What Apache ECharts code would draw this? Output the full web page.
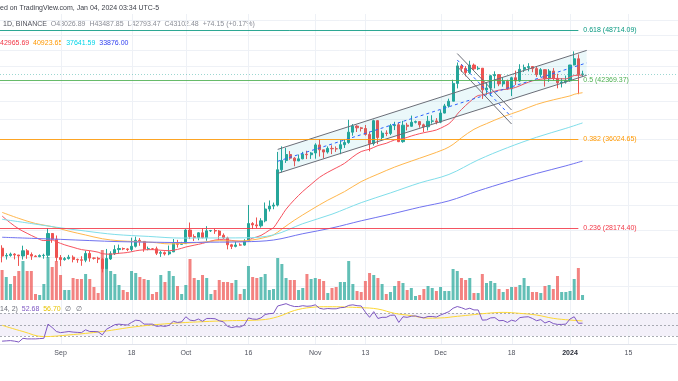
<!DOCTYPE html>
<html><head><meta charset="utf-8">
<script src="https://cdn.jsdelivr.net/npm/echarts/dist/echarts.min.js"></script>
<style>html,body{margin:0;padding:0;background:#fff}#c{width:678px;height:381px}</style>
</head><body><div id="c"></div>
<script>
// ---------- DATA ----------
const startDate = '2023-08-18';
const categoryCount = 162;
const tickDates = ['2023-09-01','2023-09-18','2023-10-01','2023-10-16','2023-11-01','2023-11-13','2023-12-01','2023-12-18','2024-01-01','2024-01-15'];
const tickLabels = ['Sep','18','Oct','16','Nov','13','Dec','18','2024','15'];

// daily candles from startDate: [open, high, low, close]
const candles = [
[26620,26839,25600,26049],[26049,26260,25801,26096],[26096,26299,26006,26189],[26189,26258,25812,26126],[26126,26135,25350,26057],
[26057,26808,25798,26432],[26432,26554,25852,26163],[26163,26311,25777,26048],[26048,26107,25983,26008],[26008,26170,25965,26089],
[26089,26219,25860,26106],[26106,28142,25922,27727],[27727,27760,27025,27299],[27299,27575,25655,25941],[25941,26125,25333,25800],
[25800,25981,25717,25869],[25869,26135,25800,25969],[25969,26100,25600,25812],[25812,25868,25570,25780],[25780,26040,25360,25753],
[25753,26445,25610,26240],[26240,26434,25645,25905],[25905,25945,25800,25895],[25895,26000,25550,25832],[25832,25880,24901,25162],
[25162,26567,25131,25840],[25840,26397,25770,26222],[26222,26840,26126,26522],[26522,26888,26224,26600],[26600,26670,26478,26568],
[26568,26617,26399,26527],[26527,27409,26385,26763],[26763,27488,26676,27210],[27210,27379,26800,27125],[27125,27159,26361,26568],
[26568,26743,26468,26580],[26580,26632,26500,26579],[26579,26738,26122,26256],[26256,26429,25990,26298],[26298,26389,26090,26206],
[26206,26817,26111,26352],[26352,27308,26342,27021],[27021,27244,26665,26906],[26906,27094,26886,26962],[26962,28065,26954,27993],
[27993,28580,27300,27494],[27494,27665,27160,27426],[27426,27830,27216,27778],[27778,28120,27360,27410],[27410,28295,27175,27931],
[27931,28000,27842,27956],[27956,28095,27700,27917],[27917,27987,27260,27590],[27590,27735,27300,27390],[27390,27479,26538,26875],
[26875,26943,26560,26756],[26756,27130,26686,26862],[26862,26989,26810,26852],[26852,27293,26808,27154],[27154,30000,27112,28500],
[28500,28612,28069,28395],[28395,28982,28140,28320],[28320,28925,28180,28713],[28713,30208,28600,29669],[29669,30380,29463,29909],
[29909,30200,29650,29992],[29992,34741,29883,33069],[33069,35280,32832,33922],[33922,35132,33700,34496],[34496,34824,33996,34151],
[34151,34245,33390,33892],[33892,34493,33860,34082],[34082,34750,34047,34525],[34525,34856,34062,34475],[34475,34720,34076,34639],
[34639,35582,34097,35421],[35421,35984,34300,34941],[34941,34942,34125,34730],[34730,35275,34583,35082],[35082,35383,34531,35049],
[35049,35275,34747,35037],[35037,35888,34523,35443],[35443,35980,35125,35655],[35655,37972,35534,36693],[36693,37526,36333,37313],
[37313,37404,36710,37138],[37138,37229,36760,37065],[37065,37430,36341,36462],[36462,36744,34800,35551],[35551,37980,35360,37880],
[37880,37930,35500,36154],[36154,36845,35875,36596],[36596,36876,36290,36568],[36568,37540,36390,37359],[37359,37758,36900,37448],
[37448,37650,35700,35741],[35741,37856,35633,37408],[37408,37653,36868,37294],[37294,38414,37251,37713],[37713,37888,37591,37780],
[37780,37814,37150,37447],[37447,37569,36707,37242],[37242,38377,36868,37818],[37818,38450,37570,37854],[37854,38145,37500,37723],
[37723,38999,37615,38682],[38682,39676,38650,39457],[39457,40250,39274,39972],[39972,42420,39972,41991],[41991,44488,41414,44073],
[44073,44297,43335,43762],[43762,44047,42821,43273],[43273,44700,43081,44170],[44170,44358,43584,43713],[43713,44038,43563,43789],
[43789,43804,40222,41244],[41244,42104,40680,41450],[41450,43000,40555,42891],[42891,43414,41424,43023],[43023,43085,41666,41930],
[41930,42724,41605,42240],[42240,42427,41250,41365],[41365,42767,40542,42652],[42652,43497,41800,42271],[42271,44275,42175,43652],
[43652,44230,43330,43870],[43870,44398,43412,43998],[43998,44016,43300,43740],[43740,43946,42746,43017],[43017,43800,42733,43613],
[43613,43647,41626,42520],[42520,43684,42167,43443],[43443,43804,42318,42581],[42581,43124,41424,42066],[42066,42613,41520,42140],
[42140,42899,41965,42283],[42283,44184,42181,44180],[44180,45879,44148,44946],[44946,45500,40750,43028],[43026.89,43487.85,42793.47,43102.48]
];

// daily volume (BTC)
const volumes = [
45000,34500,24000,36000,43500,58500,43500,43500,9000,7500,
24000,64500,49500,58500,37500,15000,15000,33000,31500,31500,
39000,31500,19500,10500,75000,63000,43500,39000,22500,15000,
12000,43500,40500,34500,31500,30000,9000,12000,37500,27000,
43500,36000,21000,9000,22500,61500,33000,30000,37500,33000,
9000,15000,30000,27000,27000,25500,30000,9000,16500,51000,
34500,33000,34500,39000,15000,16500,63000,54000,33000,30000,
30000,15000,18000,39000,31500,33000,31500,28500,10500,18000,
19500,27000,27000,58500,24000,13500,12000,28500,40500,37500,
33000,24000,9000,12000,21000,28500,25500,15000,18000,6000,
7500,16500,21000,18000,13500,19500,13500,13500,46500,43500,
33000,30000,33000,10500,10500,39000,25500,28500,25500,16500,
12000,16500,19500,19500,22500,33000,21000,12000,12000,10500,
21000,22500,16500,36000,12000,12000,13500,31500,48000,7500
];

// moving averages: [date, value]
const ma20 = [['2023-08-18',29100],['2023-08-20',28550],['2023-08-22',28080],['2023-08-24',27740],['2023-08-26',27430],['2023-08-28',27190],
['2023-08-30',27230],['2023-08-31',27100],['2023-09-02',26870],['2023-09-04',26690],['2023-09-06',26520],['2023-09-08',26440],['2023-09-10',26330],
['2023-09-11',26220],['2023-09-13',26185],['2023-09-15',26253],['2023-09-17',26306],['2023-09-19',26431],['2023-09-21',26504],['2023-09-23',26517],
['2023-09-25',26474],['2023-09-27',26439],['2023-09-29',26533],['2023-10-01',26709],['2023-10-03',26845],['2023-10-05',26979],['2023-10-07',27154],
['2023-10-09',27262],['2023-10-11',27236],['2023-10-13',27159],['2023-10-15',27132],['2023-10-17',27370],['2023-10-19',27579],['2023-10-21',27981],
['2023-10-22',28172],['2023-10-23',28638],['2023-10-24',29141],['2023-10-25',29651],['2023-10-27',30442],['2023-10-29',31145],['2023-10-31',31764],
['2023-11-02',32381],['2023-11-04',32841],['2023-11-06',33240],['2023-11-08',33660],['2023-11-10',34269],['2023-11-12',34782],['2023-11-14',35000],
['2023-11-16',35358],['2023-11-18',35580],['2023-11-20',35911],['2023-11-22',36039],['2023-11-24',36306],['2023-11-26',36541],['2023-11-28',36723],
['2023-11-30',36916],['2023-12-02',37310],['2023-12-03',37563],['2023-12-04',37985],['2023-12-05',38565],['2023-12-06',39060],['2023-12-08',39909],
['2023-12-10',40606],['2023-12-11',40667],['2023-12-13',40947],['2023-12-15',41220],['2023-12-17',41322],['2023-12-19',41527],['2023-12-21',41933],
['2023-12-23',42283],['2023-12-25',42473],['2023-12-27',42569],['2023-12-29',42540],['2023-12-31',42520],['2024-01-01',42700],['2024-01-02',42920],
['2024-01-03',42940],['2024-01-04',42965.69]];
const ma50 = [['2023-08-18',29395],['2023-08-22',28911],['2023-08-26',28504],['2023-08-30',28257],['2023-09-03',27908],['2023-09-07',27612],
['2023-09-11',27327],['2023-09-15',27176],['2023-09-19',27117],['2023-09-23',27056],['2023-09-27',26942],['2023-10-01',26985],['2023-10-05',27066],
['2023-10-09',27182],['2023-10-13',27149],['2023-10-17',27238],['2023-10-20',27427],['2023-10-22',27621],['2023-10-24',28074],['2023-10-27',28763],
['2023-10-31',29602],['2023-11-04',30405],['2023-11-08',31130],['2023-11-12',32006],['2023-11-16',32673],['2023-11-20',33315],['2023-11-24',33870],
['2023-11-28',34417],['2023-12-02',35014],['2023-12-04',35474],['2023-12-06',36123],['2023-12-09',36982],['2023-12-12',37565],['2023-12-16',38296],
['2023-12-20',38920],['2023-12-24',39618],['2023-12-28',40123],['2024-01-01',40560],['2024-01-02',40740],['2024-01-03',40840],['2024-01-04',40923.65]];
const ma100 = [['2023-08-18',28840],['2023-08-25',28503],['2023-08-31',28210],['2023-09-07',27912],['2023-09-14',27653],['2023-09-22',27505],
['2023-09-30',27378],['2023-10-07',27387],['2023-10-15',27397],['2023-10-22',27616],['2023-10-29',28489],['2023-11-05',29248],['2023-11-12',30195],
['2023-11-19',31018],['2023-11-26',31888],['2023-12-03',32644],['2023-12-10',33983],['2023-12-17',35147],['2023-12-24',36180],['2023-12-31',37079],
['2024-01-04',37641.59]];
const ma200 = [['2023-08-18',27440],['2023-08-25',27360],['2023-09-01',27280],['2023-09-08',27190],['2023-09-15',27109],['2023-09-22',27074],
['2023-09-30',27041],['2023-10-07',27069],['2023-10-15',27098],['2023-10-22',27231],['2023-10-29',27709],['2023-11-05',28154],['2023-11-12',28718],
['2023-11-19',29244],['2023-11-26',29814],['2023-12-03',30346],['2023-12-10',31195],['2023-12-17',31985],['2023-12-24',32734],['2023-12-31',33431],
['2024-01-04',33876.00]];

// RSI(14) daily from startDate
const rsi = [
21,21.5,22,21,19.5,26,25,25,25,25.5,
26,51,45,38,36,37,38,37,36.5,36,
41,38,38,37.5,32,42,46,50,51,50,
49.5,54,58,57,51,51,51,47,48,47,
49,56,54,55,64,58,57,60,56,61,
61,60.5,57,55,47,45,46.5,46,49.5,62,
60,59.5,62,68,69.5,70,83,85,87,84,
82,82,83.5,82.5,83,85,79,77.5,78.5,78,
78,80,80.5,84,85,83.5,83,72,63,73,
61,63,63,66.5,67,54,64,63,65,65.5,
63.5,62,64.5,64.5,63.5,67,70,73,79,82,
80,77,79,76,76,58,58.5,62,62.5,57,
57.5,54,58,56,62.5,63.5,64,61,57,59,
53,56,52,50.5,50.5,51,60,64,52.5,52.68
];
const rsiMA = [['2023-08-18',49],['2023-08-23',38],['2023-08-28',29],['2023-09-03',32],['2023-09-11',38],['2023-09-19',46.5],['2023-09-27',52],
['2023-10-05',55.3],['2023-10-11',57],['2023-10-19',58.5],['2023-10-23',64],['2023-10-27',75],['2023-10-31',80.5],['2023-11-04',81.7],
['2023-11-12',80],['2023-11-16',77.6],['2023-11-20',70],['2023-11-24',66],['2023-11-28',61.5],['2023-12-02',62.3],['2023-12-04',64],
['2023-12-08',67],['2023-12-12',70],['2023-12-16',71.7],['2023-12-20',70],['2023-12-24',67],['2023-12-28',61.2],['2024-01-01',58.2],['2024-01-04',56.7]];
const rsiLevels = [70, 50, 30];

// Fibonacci retracement
const fibLevels = ['0.618','0.5','0.382','0.236'];
const fibPrices = [48714.09, 42369.37, 36024.65, 28174.40];
const fibEndDate = '2024-01-03';

// drawings (anchored in date / price)
const upChannelTop = [['2023-10-23',34985],['2024-01-05',46000]];
const upChannelBottom = [['2023-10-23',32740],['2024-01-05',42940]];
const upChannelMid = [['2023-10-23',33855],['2024-01-05',44440]];
const downChannelA = [['2023-12-05',45600],['2023-12-18',39010]];
const downChannelB = [['2023-12-05',44000],['2023-12-18',37530]];
const downChannelMid = [['2023-12-05',44800],['2023-12-18',38260]];
const gridPrices = [24000,26000,28000,30000,32000,34000,36000,38000,40000,42000,44000,46000,48000,50000];
const lastClose = 43102.48;

// ---------- CHART ----------
const UP = '#26a69a', DOWN = '#ef5350';
const FIB_COLORS = ['#089981','#4caf50','#ff9800','#f23645'];
const FONT = '7px "Liberation Sans", Arial, sans-serif';

const dates = [];
{ const t0 = Date.parse(startDate + 'T00:00:00Z');
  for (let i = 0; i < categoryCount; i++) dates.push(new Date(t0 + i * 86400000).toISOString().slice(0, 10)); }
const idx = d => dates.indexOf(d);

const candleData = candles.map(r => [r[0], r[3], r[2], r[1]]);
const volData = volumes.map((v, i) => ({ value: v, itemStyle: { color: candles[i][3] >= candles[i][0] ? 'rgba(38,166,154,0.72)' : 'rgba(239,83,80,0.72)' } }));

const chart = echarts.init(document.getElementById('c'), null, { renderer: 'canvas', width: 678, height: 381 });

function seg(api, a, b) {
  const p1 = api.coord([idx(a[0]), a[1]]), p2 = api.coord([idx(b[0]), b[1]]);
  return [p1, p2];
}

function renderMainGrid(params, api) {
  const cs = params.coordSys; const ch = [];
  gridPrices.forEach(p => {
    const y = Math.round(api.coord([0, p])[1]) + 0.5;
    ch.push({ type: 'line', shape: { x1: cs.x, y1: y, x2: cs.x + cs.width + 2, y2: y }, style: { stroke: '#eef1f6', lineWidth: 1 } });
  });
  tickDates.forEach(d => {
    const x = Math.round(api.coord([idx(d), 30000])[0]) + 0.5;
    ch.push({ type: 'line', shape: { x1: x, y1: cs.y, x2: x, y2: cs.y + cs.height + 2 }, style: { stroke: '#eef1f6', lineWidth: 1 } });
  });
  return { type: 'group', children: ch };
}

function renderDrawings(params, api) {
  const cs = params.coordSys; const ch = [];
  // ascending channel fill + lines
  const [u0, u1] = seg(api, upChannelTop[0], upChannelTop[1]);
  const [l0, l1] = seg(api, upChannelBottom[0], upChannelBottom[1]);
  ch.push({ type: 'polygon', shape: { points: [u0, u1, l1, l0] }, style: { fill: 'rgba(0,172,193,0.08)' } });
  [[u0, u1], [l0, l1]].forEach(([a, b]) => ch.push({ type: 'line', shape: { x1: a[0], y1: a[1], x2: b[0], y2: b[1] }, style: { stroke: '#6b6e78', lineWidth: 1 } }));
  const [m0, m1] = seg(api, upChannelMid[0], upChannelMid[1]);
  ch.push({ type: 'line', shape: { x1: m0[0], y1: m0[1], x2: m1[0], y2: m1[1] }, style: { stroke: '#2962ff', lineWidth: 1, lineDash: [3, 3] } });
  // descending channel
  [downChannelA, downChannelB].forEach(s => { const [a, b] = seg(api, s[0], s[1]);
    ch.push({ type: 'line', shape: { x1: a[0], y1: a[1], x2: b[0], y2: b[1] }, style: { stroke: '#6b6e78', lineWidth: 1 } }); });
  const [d0, d1] = seg(api, downChannelMid[0], downChannelMid[1]);
  ch.push({ type: 'line', shape: { x1: d0[0], y1: d0[1], x2: d1[0], y2: d1[1] }, style: { stroke: '#2962ff', lineWidth: 1, lineDash: [3, 3] } });
  // fib levels
  fibPrices.forEach((p, i) => {
    const e = api.coord([idx(fibEndDate), p]); const y = Math.round(e[1]) + 0.5;
    ch.push({ type: 'line', shape: { x1: cs.x, y1: y, x2: e[0], y2: y }, style: { stroke: FIB_COLORS[i], lineWidth: 1, opacity: 0.85 } });
    ch.push({ type: 'text', x: e[0] + 5, y: y, style: { text: fibLevels[i] + ' (' + p.toFixed(2) + ')', fill: FIB_COLORS[i], font: FONT, verticalAlign: 'middle', align: 'left' } });
  });
  // last price dotted line
  const ly = Math.round(api.coord([0, lastClose])[1]) + 0.5;
  ch.push({ type: 'line', shape: { x1: cs.x, y1: ly, x2: cs.x + cs.width + 2, y2: ly }, style: { stroke: 'rgba(38,166,154,0.45)', lineWidth: 1, lineDash: [1, 2] } });
  return { type: 'group', children: ch };
}

function renderRsiGrid(params, api) {
  const cs = params.coordSys; const ch = [];
  const yTop = api.coord([0, rsiLevels[0]])[1], yBot = api.coord([0, rsiLevels[2]])[1];
  ch.push({ type: 'rect', shape: { x: cs.x, y: yTop, width: cs.width + 2, height: yBot - yTop }, style: { fill: 'rgba(126,87,194,0.09)' } });
  tickDates.forEach(d => {
    const x = Math.round(api.coord([idx(d), 50])[0]) + 0.5;
    ch.push({ type: 'line', shape: { x1: x, y1: cs.y - 2, x2: x, y2: cs.y + cs.height }, style: { stroke: '#eef1f6', lineWidth: 1 } });
  });
  rsiLevels.forEach(v => {
    const y = Math.round(api.coord([0, v])[1]) + 0.5;
    ch.push({ type: 'line', shape: { x1: cs.x, y1: y, x2: cs.x + cs.width + 2, y2: y }, style: { stroke: '#9598a1', lineWidth: 1, lineDash: [2, 2], opacity: 0.8 } });
  });
  return { type: 'group', children: ch };
}

const maLine = (data, color) => ({ type: 'line', xAxisIndex: 0, yAxisIndex: 0, data, smooth: 0.35, symbol: 'none', z: 3,
  lineStyle: { color, width: 1 }, silent: true });

chart.setOption({
  animation: false,
  backgroundColor: '#ffffff',
  grid: [
    { left: 0, right: 1.5, top: 14, height: 286 },
    { left: 0, right: 1.5, top: 240, height: 60 },
    { left: 0, right: 1.5, top: 302, height: 42 }
  ],
  xAxis: [
    { type: 'category', gridIndex: 0, data: dates, boundaryGap: true, show: false },
    { type: 'category', gridIndex: 1, data: dates, boundaryGap: true, show: false },
    { type: 'category', gridIndex: 2, data: dates, boundaryGap: true,
      axisLine: { show: true, lineStyle: { color: '#e0e3eb' } }, axisTick: { show: false }, splitLine: { show: false },
      axisLabel: { show: true, margin: 6, color: '#50535e', fontSize: 7, fontFamily: '"Liberation Sans", Arial, sans-serif',
        interval: (i, v) => tickDates.includes(v),
        formatter: v => { const k = tickDates.indexOf(v); const t = tickLabels[k]; return /^\d{4}$/.test(t) ? '{b|' + t + '}' : t; },
        rich: { b: { fontWeight: 'bold', fontSize: 7, color: '#2a2e39', fontFamily: '"Liberation Sans", Arial, sans-serif' } } } }
  ],
  yAxis: [
    { type: 'log', logBase: 10, gridIndex: 0, min: 23070, max: 50870, show: false, splitLine: { show: false } },
    { type: 'value', gridIndex: 1, min: 0, max: 90000, show: false, splitLine: { show: false } },
    { type: 'value', gridIndex: 2, min: 16, max: 90, show: false, splitLine: { show: false } }
  ],
  series: [
    { type: 'custom', xAxisIndex: 0, yAxisIndex: 0, data: [[0, 30000]], renderItem: renderMainGrid, z: 0, silent: true },
    { type: 'bar', xAxisIndex: 1, yAxisIndex: 1, data: volData, barWidth: 3, z: 1, silent: true },
    { type: 'candlestick', xAxisIndex: 0, yAxisIndex: 0, data: candleData, barWidth: 2.6, z: 2,
      itemStyle: { color: UP, color0: DOWN, borderColor: UP, borderColor0: DOWN, borderWidth: 1 } },
    maLine(ma20, '#f7525f'),
    maLine(ma50, '#ffb74d'),
    maLine(ma100, '#80deea'),
    maLine(ma200, '#7173f0'),
    { type: 'custom', xAxisIndex: 0, yAxisIndex: 0, data: [[0, 30000]], renderItem: renderDrawings, z: 4, silent: true },
    { type: 'custom', xAxisIndex: 2, yAxisIndex: 2, data: [[0, 50]], renderItem: renderRsiGrid, z: 0, silent: true },
    { type: 'line', xAxisIndex: 2, yAxisIndex: 2, data: rsi, symbol: 'none', lineStyle: { color: '#7e57c2', width: 1 }, z: 3, silent: true },
    { type: 'line', xAxisIndex: 2, yAxisIndex: 2, data: rsiMA, smooth: 0.4, symbol: 'none', lineStyle: { color: '#fdd835', width: 1 }, z: 2, silent: true }
  ],
  graphic: [
    { type: 'text', x: 0, y: 8, style: { text: 'ed on TradingView.com, Jan 04, 2024 03:34 UTC-5', fill: '#3c3f48', font: FONT, verticalAlign: 'middle' } },
    { type: 'text', x: 3, y: 24, style: { text: '{d|1D, BINANCE}  {g|O43026.89  H43487.85  L42793.47  C43102.48  +74.15 (+0.17%)}', verticalAlign: 'middle', font: FONT,
      rich: { d: { fill: '#50535e', font: FONT }, g: { fill: '#8a8d97', font: FONT } } } },
    { type: 'text', x: 0, y: 43, style: { text: '{r|42965.69}  {o|40923.65}  {c|37641.59}  {b|33876.00}', verticalAlign: 'middle', font: FONT,
      rich: { r: { fill: '#f23645', font: FONT }, o: { fill: '#ff9800', font: FONT }, c: { fill: '#00d4e8', font: FONT }, b: { fill: '#2f3ff0', font: FONT } } } },
    { type: 'text', x: 0, y: 309, style: { text: '{g|14, 2)}  {p|52.68}  {y|56.70}  {g|\u2205   \u2205}', verticalAlign: 'middle', font: FONT,
      rich: { g: { fill: '#6a6d78', font: FONT }, p: { fill: '#7e57c2', font: FONT }, y: { fill: '#e8c400', font: FONT } } } }
  ]
});
</script>
</body></html>
